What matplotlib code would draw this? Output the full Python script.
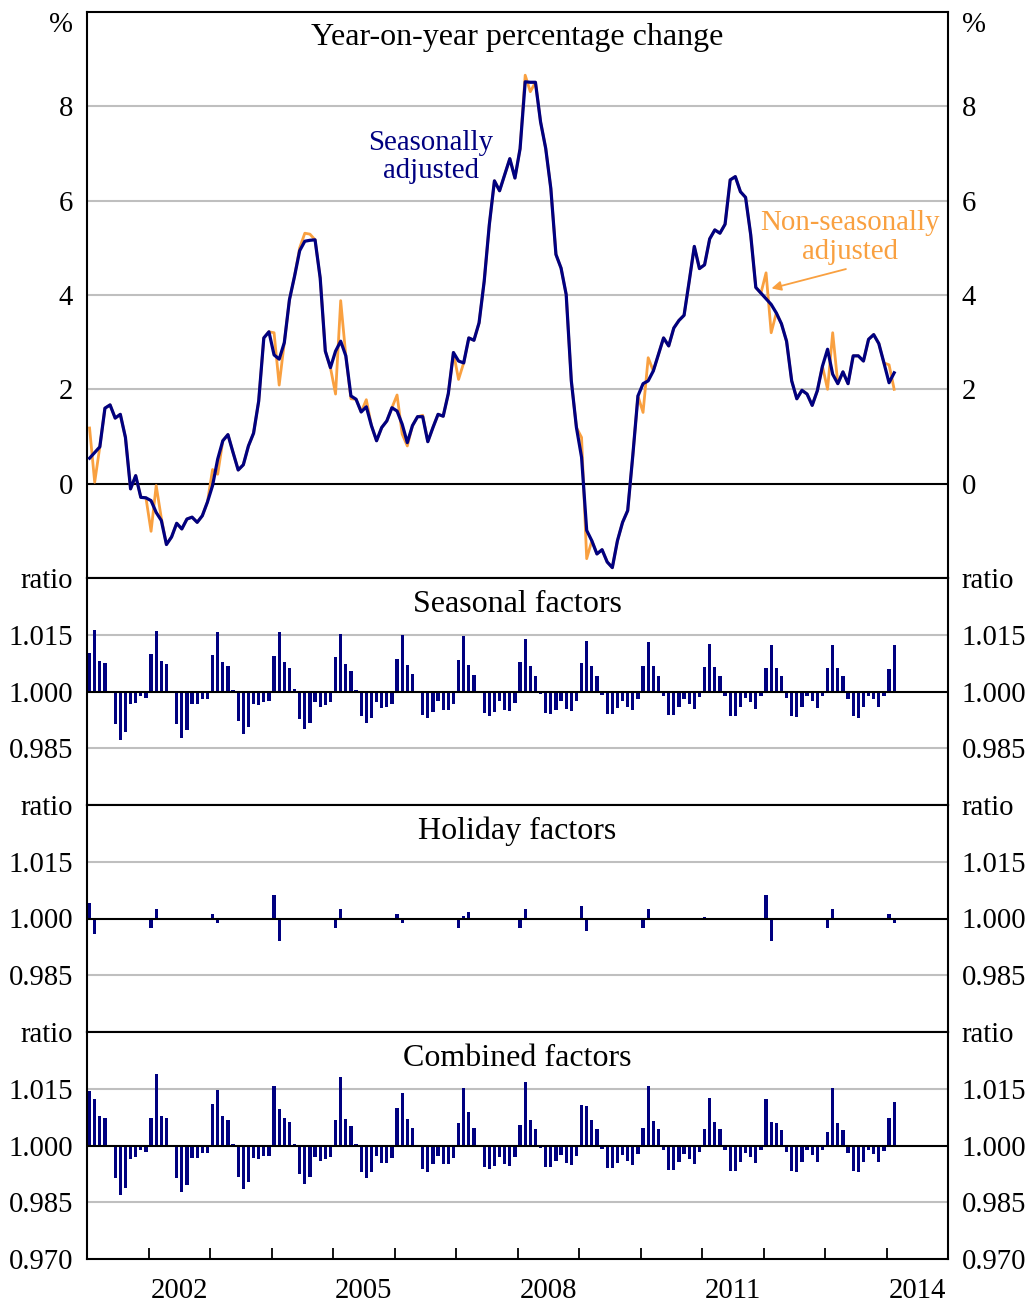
import numpy as np
import matplotlib
matplotlib.use("Agg")
import matplotlib.pyplot as plt

plt.rcParams['font.family'] = ['Liberation Serif', 'DejaVu Serif']

NAVY = '#000080'
ORANGE = '#F9A040'
GRID = '#BFBFBF'

# monthly, Jan 2001 to Feb 2014, year-on-year % change
sa_yoy = [
    0.54, 0.66, 0.78, 1.60, 1.67, 1.39, 1.47, 0.98, -0.11, 0.17, -0.29, -0.30,
    -0.36, -0.61, -0.78, -1.29, -1.13, -0.84, -0.96, -0.75, -0.71, -0.82, -0.68, -0.39,
    -0.04, 0.52, 0.91, 1.04, 0.66, 0.29, 0.40, 0.80, 1.07, 1.75, 3.09, 3.22,
    2.73, 2.64, 2.99, 3.90, 4.40, 4.94, 5.14, 5.16, 5.17, 4.36, 2.81, 2.46,
    2.81, 3.02, 2.71, 1.86, 1.79, 1.52, 1.63, 1.23, 0.91, 1.19, 1.33, 1.61,
    1.54, 1.26, 0.87, 1.23, 1.42, 1.42, 0.89, 1.19, 1.47, 1.43, 1.91, 2.78,
    2.60, 2.56, 3.09, 3.04, 3.41, 4.29, 5.49, 6.42, 6.21, 6.55, 6.89, 6.48,
    7.10, 8.52, 8.51, 8.51, 7.67, 7.11, 6.26, 4.86, 4.57, 4.01, 2.18, 1.19,
    0.56, -0.99, -1.21, -1.49, -1.40, -1.66, -1.78, -1.21, -0.82, -0.57, 0.60, 1.86,
    2.12, 2.18, 2.39, 2.74, 3.09, 2.92, 3.30, 3.46, 3.57, 4.29, 5.03, 4.56,
    4.64, 5.19, 5.38, 5.31, 5.50, 6.44, 6.51, 6.19, 6.07, 5.28, 4.16, 4.04,
    3.92, 3.80, 3.62, 3.39, 3.02, 2.18, 1.80, 1.98, 1.90, 1.66, 1.97, 2.49,
    2.85, 2.32, 2.12, 2.37, 2.12, 2.71, 2.71, 2.60, 3.06, 3.16, 2.97, 2.56,
    2.14, 2.35,
]

nsa_yoy = [
    1.18, 0.03, 0.78, 1.60, 1.67, 1.39, 1.47, 0.98, -0.11, 0.17, -0.29, -0.30,
    -1.01, -0.04, -0.73, -1.29, -1.13, -0.84, -0.96, -0.75, -0.71, -0.82, -0.68, -0.39,
    0.30, 0.20, 0.91, 1.04, 0.66, 0.29, 0.40, 0.80, 1.07, 1.75, 3.09, 3.22,
    3.20, 2.09, 2.99, 3.90, 4.40, 5.00, 5.31, 5.29, 5.17, 4.36, 2.81, 2.46,
    1.90, 3.88, 2.71, 1.80, 1.79, 1.52, 1.78, 1.23, 0.91, 1.19, 1.33, 1.61,
    1.88, 1.05, 0.80, 1.23, 1.42, 1.45, 0.89, 1.19, 1.47, 1.43, 1.91, 2.78,
    2.21, 2.56, 3.09, 3.04, 3.41, 4.29, 5.49, 6.42, 6.21, 6.55, 6.89, 6.48,
    7.10, 8.66, 8.31, 8.51, 7.67, 7.11, 6.26, 4.86, 4.57, 4.01, 2.18, 1.19,
    0.98, -1.59, -1.21, -1.49, -1.40, -1.66, -1.78, -1.21, -0.82, -0.57, 0.60, 1.86,
    1.51, 2.67, 2.39, 2.74, 3.09, 2.92, 3.30, 3.46, 3.57, 4.29, 5.03, 4.56,
    4.64, 5.19, 5.38, 5.31, 5.50, 6.44, 6.51, 6.19, 6.07, 5.28, 4.16, 4.04,
    4.47, 3.20, 3.62, 3.39, 3.02, 2.18, 1.80, 1.98, 1.90, 1.66, 1.97, 2.49,
    2.00, 3.20, 2.12, 2.37, 2.12, 2.71, 2.71, 2.60, 3.06, 3.16, 2.97, 2.56,
    2.52, 2.00,
]

seasonal = [
    1.0101, 1.0163, 1.0081, 1.0075, 0.9996, 0.9914, 0.9872, 0.9892, 0.9966, 0.9969, 0.9989, 0.9982,
    1.0100, 1.0161, 1.0081, 1.0073, 0.9998, 0.9914, 0.9878, 0.9897, 0.9966, 0.9967, 0.9981, 0.9980,
    1.0097, 1.0158, 1.0079, 1.0068, 1.0004, 0.9921, 0.9888, 0.9907, 0.9967, 0.9965, 0.9973, 0.9976,
    1.0094, 1.0156, 1.0077, 1.0062, 1.0006, 0.9927, 0.9902, 0.9918, 0.9971, 0.9960, 0.9964, 0.9973,
    1.0091, 1.0153, 1.0073, 1.0053, 1.0004, 0.9934, 0.9916, 0.9929, 0.9972, 0.9956, 0.9958, 0.9967,
    1.0086, 1.0150, 1.0071, 1.0047, 0.9998, 0.9938, 0.9929, 0.9947, 0.9974, 0.9951, 0.9951, 0.9966,
    1.0084, 1.0146, 1.0069, 1.0044, 0.9997, 0.9943, 0.9936, 0.9947, 0.9974, 0.9951, 0.9949, 0.9969,
    1.0079, 1.0139, 1.0068, 1.0041, 0.9994, 0.9943, 0.9941, 0.9951, 0.9974, 0.9953, 0.9949, 0.9974,
    1.0075, 1.0134, 1.0068, 1.0041, 0.9991, 0.9941, 0.9941, 0.9956, 0.9976, 0.9959, 0.9950, 0.9980,
    1.0068, 1.0131, 1.0068, 1.0041, 0.9989, 0.9938, 0.9938, 0.9959, 0.9980, 0.9967, 0.9953, 0.9985,
    1.0064, 1.0126, 1.0064, 1.0042, 0.9989, 0.9934, 0.9934, 0.9959, 0.9982, 0.9971, 0.9954, 0.9989,
    1.0062, 1.0123, 1.0062, 1.0041, 0.9984, 0.9934, 0.9932, 0.9959, 0.9987, 0.9976, 0.9956, 0.9989,
    1.0061, 1.0123, 1.0061, 1.0040, 0.9981, 0.9934, 0.9931, 0.9959, 0.9989, 0.9980, 0.9959, 0.9987,
    1.0059, 1.0123,
]

holiday = [
    1.0041, 0.9959, 1, 1, 1, 1, 1, 1, 1, 1, 1, 1,
    0.9975, 1.0026, 0.9998, 1, 1, 1, 1, 1, 1, 1, 1, 1,
    1.0012, 0.9989, 0.9998, 1, 1, 1, 1, 1, 1, 1, 1, 1,
    1.0062, 0.9940, 0.9998, 1, 1, 1, 1, 1, 1, 1, 1, 1,
    0.9975, 1.0026, 0.9998, 1, 1, 1, 1, 1, 1, 1, 1, 1,
    1.0012, 0.9989, 0.9998, 1, 1, 1, 1, 1, 1, 1, 1, 1,
    0.9975, 1.0006, 1.0018, 0.9998, 1, 1, 1, 1, 1, 1, 1, 1,
    0.9975, 1.0026, 0.9998, 1, 1, 1, 1, 1, 1, 1, 1, 1,
    1.0033, 0.9968, 0.9998, 1, 1, 1, 1, 1, 1, 1, 1, 1,
    0.9975, 1.0026, 0.9998, 1, 1, 1, 1, 1, 1, 1, 1, 1,
    1.0004, 0.9998, 0.9998, 1, 1, 1, 1, 1, 1, 1, 1, 1,
    1.0062, 0.9940, 0.9998, 1, 1, 1, 1, 1, 1, 1, 1, 1,
    0.9975, 1.0026, 0.9998, 1, 1, 1, 1, 1, 1, 1, 1, 1,
    1.0012, 0.9989,
]

combined = [
    1.0144, 1.0123, 1.0079, 1.0074, 0.9996, 0.9913, 0.9870, 0.9888, 0.9964, 0.9969, 0.9987, 0.9982,
    1.0074, 1.0188, 1.0079, 1.0072, 0.9998, 0.9914, 0.9876, 0.9895, 0.9966, 0.9966, 0.9980, 0.9979,
    1.0110, 1.0147, 1.0077, 1.0068, 1.0003, 0.9918, 0.9886, 0.9904, 0.9967, 0.9964, 0.9971, 0.9973,
    1.0157, 1.0096, 1.0074, 1.0061, 1.0004, 0.9924, 0.9899, 0.9916, 0.9969, 0.9959, 0.9964, 0.9970,
    1.0067, 1.0180, 1.0071, 1.0052, 1.0004, 0.9931, 0.9913, 0.9929, 0.9971, 0.9955, 0.9955, 0.9967,
    1.0099, 1.0139, 1.0070, 1.0047, 0.9998, 0.9937, 0.9929, 0.9951, 0.9971, 0.9951, 0.9951, 0.9967,
    1.0059, 1.0152, 1.0088, 1.0045, 0.9998, 0.9942, 0.9937, 0.9946, 0.9969, 0.9951, 0.9946, 0.9969,
    1.0054, 1.0168, 1.0067, 1.0043, 0.9994, 0.9943, 0.9942, 0.9958, 0.9975, 0.9955, 0.9949, 0.9973,
    1.0107, 1.0104, 1.0067, 1.0043, 0.9992, 0.9940, 0.9940, 0.9955, 0.9975, 0.9958, 0.9949, 0.9978,
    1.0045, 1.0157, 1.0065, 1.0043, 0.9989, 0.9936, 0.9936, 0.9956, 0.9978, 0.9965, 0.9951, 0.9983,
    1.0043, 1.0126, 1.0063, 1.0043, 0.9987, 0.9933, 0.9933, 0.9956, 0.9980, 0.9970, 0.9954, 0.9987,
    1.0124, 1.0063, 1.0059, 1.0041, 0.9982, 0.9933, 0.9929, 0.9956, 0.9987, 0.9974, 0.9956, 0.9987,
    1.0036, 1.0152, 1.0059, 1.0040, 0.9980, 0.9933, 0.9929, 0.9956, 0.9987, 0.9978, 0.9956, 0.9985,
    1.0073, 1.0114,
]

year_labels = ['2002', '2005', '2008', '2011', '2014']
year_label_pos = [2002.5, 2005.5, 2008.5, 2011.5, 2014.5]

n = len(sa_yoy)
x = 2001 + (np.arange(n) + 0.5) / 12

W, H = 1032, 1304
fig = plt.figure(figsize=(W / 100, H / 100), dpi=100)

left, right = 87 / W, 948 / W
TICK_FS = 20.7


def make_axes(top_px, bot_px):
    return fig.add_axes([left, 1 - bot_px / H, right - left, (bot_px - top_px) / H])


ax1 = make_axes(12, 578)
ax2 = make_axes(578, 805)
ax3 = make_axes(805, 1032)
ax4 = make_axes(1032, 1259)

for ax in (ax1, ax2, ax3, ax4):
    ax.set_xlim(2001, 2015)
    for s in ax.spines.values():
        s.set_linewidth(1.5)
    ax.tick_params(axis='y', which='both', left=False, right=False,
                   labelleft=True, labelright=True, labelsize=TICK_FS, pad=6.5)
    ax.tick_params(axis='x', which='both', bottom=False, top=False, labelbottom=False)

# top panel
ax1.set_ylim(-2, 10)
ax1.set_yticks([0, 2, 4, 6, 8, 10])
ax1.set_yticklabels(['0', '2', '4', '6', '8', '%'])
for lab in ax1.get_yticklabels(which='both'):
    if lab.get_text() == '%':
        lab.set_va('top')
for lab in ax1.yaxis.get_ticklabels():
    pass
for v in [2, 4, 6, 8]:
    ax1.axhline(v, color=GRID, lw=1.5, zorder=1)
ax1.axhline(0, color='black', lw=1.5, zorder=1)
ax1.plot(x, nsa_yoy, color=ORANGE, lw=2.0, zorder=2)
ax1.plot(x, sa_yoy, color=NAVY, lw=2.3, zorder=3)
ax1.text(0.5, 1 - 25 / 566, 'Year-on-year percentage change', transform=ax1.transAxes,
         ha='center', va='center', fontsize=23)
ax1.text(2006.59, 6.93, 'Seasonally\nadjusted', color=NAVY, fontsize=20.8,
         ha='center', va='center', linespacing=1.12)
ax1.text(2013.41, 5.22, 'Non-seasonally\nadjusted', color=ORANGE, fontsize=20.8,
         ha='center', va='center', linespacing=1.12)
ax1.annotate('', xy=(2012.13, 4.14), xytext=(2013.34, 4.55),
             arrowprops=dict(arrowstyle='-|>', color=ORANGE, lw=1.3,
                             mutation_scale=14, shrinkA=0, shrinkB=0))

# factor panels
panels = [(ax2, seasonal, 'Seasonal factors'),
          (ax3, holiday, 'Holiday factors'),
          (ax4, combined, 'Combined factors')]
for ax, vals, title in panels:
    ax.set_ylim(0.97, 1.03)
    if ax is ax4:
        ax.set_yticks([0.97, 0.985, 1.0, 1.015, 1.03])
        ax.set_yticklabels(['0.970', '0.985', '1.000', '1.015', 'ratio'])
    else:
        ax.set_yticks([0.985, 1.0, 1.015, 1.03])
        ax.set_yticklabels(['0.985', '1.000', '1.015', 'ratio'])
    for v in [0.985, 1.015]:
        ax.axhline(v, color=GRID, lw=1.5, zorder=1)
    vals = np.array(vals)
    ax.bar(x, vals - 1, bottom=1, width=0.62 / 12, color=NAVY, zorder=2)
    ax.axhline(1.0, color='black', lw=1.5, zorder=3)
    ax.text(0.5, 1 - 26 / 227, title, transform=ax.transAxes,
            ha='center', va='center', fontsize=23)

ax4.set_xticks(range(2001, 2016))
ax4.set_xticks(year_label_pos, minor=True)
ax4.set_xticklabels(year_labels, minor=True)
ax4.tick_params(axis='x', which='major', bottom=True, direction='in',
                length=8, width=1.3, labelbottom=False)
ax4.tick_params(axis='x', which='minor', bottom=False, labelbottom=True,
                labelsize=TICK_FS, pad=12)

# nudge the % unit labels down slightly, as in the original
for lab in ax1.yaxis.get_majorticklabels():
    if lab.get_text() == '%':
        lab.set_va('top')

fig.savefig('out.png', dpi=100)
